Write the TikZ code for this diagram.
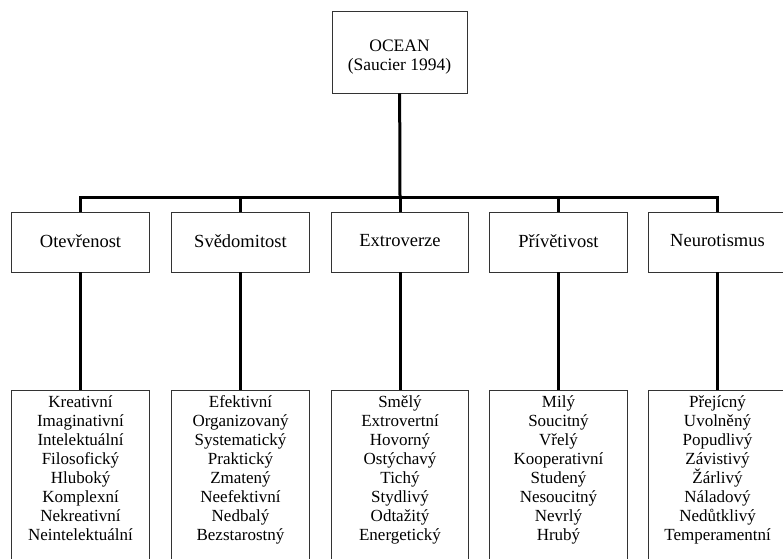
\documentclass[tikz,border=0pt]{standalone}
\usepackage{fontspec}
\setmainfont{Liberation Serif}
\begin{document}
\begin{tikzpicture}[x=1pt,y=-1pt,font=\fontsize{17}{19}\selectfont,
  box/.style={draw=black!80,line width=0.9pt,fill=white,minimum width=137.5pt,minimum height=60pt,inner sep=0pt,text depth=0.25em,font=\fontsize{18.5}{20}\selectfont},
  head/.style={box,minimum width=135pt,minimum height=82pt},
  headtext/.style={align=center,inner sep=0pt,font=\fontsize{17.5}{19.5}\selectfont},
  frame/.style={draw=black!80,line width=0.9pt,anchor=north,minimum width=137.5pt,minimum height=200pt,inner sep=0pt},
  traits/.style={anchor=north,align=center,inner sep=0pt},
  link/.style={line width=3pt}]
\useasboundingbox (0,0) rectangle (783,558);
\node[head] (ocean) at (399.5,52) {};
\node[headtext] (tocean) at ([yshift=-5pt]ocean.center) {OCEAN\\(Saucier 1994)};
\node[box] (otev) at (80.5,242) {Otevřenost};
\node[box] (sved) at (240.5,242) {Svědomitost};
\node[box] (extra) at (400,242) {Extroverze};
\node[box] (privet) at (558.5,242) {Přívětivost};
\node[box] (neuro) at (717.5,242) {Neurotismus};
\node[frame] (kotev) at (80.5,390) {};
\node[frame] (ksved) at (240.5,390) {};
\node[frame] (kextra) at (400,390) {};
\node[frame] (kprivet) at (558.5,390) {};
\node[frame] (kneuro) at (717.5,390) {};
\node[traits] (totev) at ([yshift=-5pt]kotev.north) {Kreativní\\Imaginativní\\Intelektuální\\Filosofický\\Hluboký\\Komplexní\\Nekreativní\\Neintelektuální};
\node[traits] (tsved) at ([yshift=-5pt]ksved.north) {Efektivní\\Organizovaný\\Systematický\\Praktický\\Zmatený\\Neefektivní\\Nedbalý\\Bezstarostný};
\node[traits] (textra) at ([yshift=-5pt]kextra.north) {Smělý\\Extrovertní\\Hovorný\\Ostýchavý\\Tichý\\Stydlivý\\Odtažitý\\Energetický};
\node[traits] (tprivet) at ([yshift=-5pt]kprivet.north) {Milý\\Soucitný\\Vřelý\\Kooperativní\\Studený\\Nesoucitný\\Nevrlý\\Hrubý};
\node[traits] (tneuro) at ([yshift=-5pt]kneuro.north) {Přejícný\\Uvolněný\\Popudlivý\\Závistivý\\Žárlivý\\Náladový\\Nedůtklivý\\Temperamentní};
% stromove spojnice
\coordinate (bar) at (400,197);
\draw[link] (ocean) -- (bar);
\draw[link] (bar) -| (otev);
\draw[link] (bar) -| (sved);
\draw[link] (bar) -- (extra);
\draw[link] (bar) -| (privet);
\draw[link] (bar) -| (neuro);
\draw[link] (otev) -- (kotev);
\draw[link] (sved) -- (ksved);
\draw[link] (extra) -- (kextra);
\draw[link] (privet) -- (kprivet);
\draw[link] (neuro) -- (kneuro);
\end{tikzpicture}
\end{document}
